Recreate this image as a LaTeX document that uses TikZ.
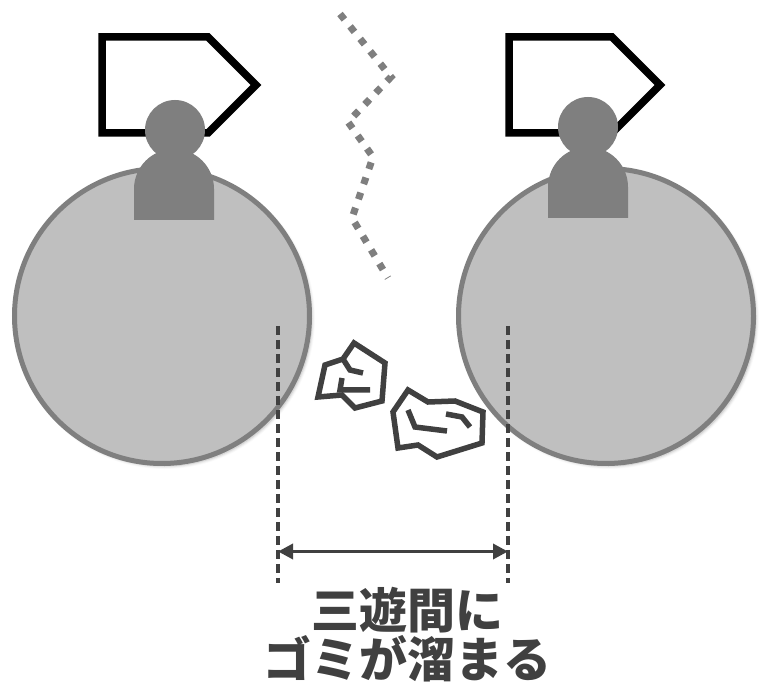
\documentclass[tikz,border=0pt]{standalone}
\usepackage{fontspec}
\newfontfamily\jpfont{Noto Sans CJK JP}
\usetikzlibrary{arrows.meta,shadows.blur}
\definecolor{discfill}{HTML}{BFBFBF}
\definecolor{discedge}{HTML}{7F7F7F}
\definecolor{ink}{HTML}{404040}

\begin{document}
\begin{tikzpicture}[x=1pt,y=-1pt,
  disc/.style={circle, draw=discedge, fill=discfill, line width=5pt,
    minimum size=295pt, inner sep=0pt,
    blur shadow={shadow xshift=2.5pt, shadow yshift=-2.5pt,
      shadow blur radius=3pt, shadow opacity=30}},
  player/.style={fill=discedge},
  flagbox/.style={draw=black, fill=white, line width=7.5pt, line join=miter},
  trail/.style={draw=discedge, line width=7pt, dash pattern=on 7pt off 9pt},
  debris/.style={draw=ink, fill=white, line width=5.5pt, line join=miter},
  crack/.style={draw=ink, line width=5.5pt, line join=miter},
  guide/.style={draw=ink, line width=3.5pt, dash pattern=on 9pt off 5pt},
  span/.style={draw=ink, line width=3.5pt,
    {Triangle[length=15pt,width=15pt]}-{Triangle[length=15pt,width=15pt]}},
  caption/.style={text=ink, font=\jpfont\bfseries\fontsize{48}{49}\selectfont,
    anchor=base, inner sep=0pt}]

\useasboundingbox (0,0) rectangle (761,684);

% flags behind the two players
\draw[flagbox] (102,37) -- (208,37) -- (256,85) -- (208,133) -- (102,133) -- cycle;
\draw[flagbox] (509,37) -- (612,37) -- (660,85) -- (612,133) -- (509,133) -- cycle;

% dotted boundary between the two zones
\draw[trail] (340,14) -- (391,77) -- (348,122) -- (373,157) -- (352,218) -- (388,278);

% the two fielding areas
\node[disc] (leftdisc) at (162,316) {};
\node[disc] (rightdisc) at (606,316) {};

% players: rounded body and head
\fill[player] (134,220) -- (134,189) arc[start angle=180, end angle=0, radius=40pt] -- (214,220) -- cycle;
\fill[player] (175,130) circle[radius=30pt];
\fill[player] (548,218) -- (548,187) arc[start angle=180, end angle=0, radius=40pt] -- (628,218) -- cycle;
\fill[player] (588,127) circle[radius=30pt];

% rubbish gathering in the gap
\draw[debris] (354,343) -- (385,363) -- (382,401) -- (355,408) -- (342,395)
  -- (318,397) -- (325,365) -- (343,359) -- cycle;
\draw[crack] (343,359) -- (350,370) -- (363,373);
\draw[crack] (342,378) -- (340,390) -- (370,390);

\draw[debris] (408,390) -- (428,402) -- (455,401) -- (483,412) -- (482,443)
  -- (437,457) -- (418,445) -- (398,448) -- (393,412) -- cycle;
\draw[crack] (408,410) -- (415,427) -- (447,431);
\draw[crack] (446,414) -- (462,417) -- (470,427);

% width of the gap
\coordinate (gltop) at (278,326);
\coordinate (glbot) at (278,583);
\coordinate (grtop) at (508,326);
\coordinate (grbot) at (508,583);
\coordinate (al) at (278,551.5);
\coordinate (ar) at (508,551.5);
\draw[guide] (gltop) -- (glbot);
\draw[guide] (grtop) -- (grbot);
\draw[span] (al) -- (ar);

% caption
\node[caption] (capone) at (407,628) {三遊間に};
\node[caption] (captwo) at (407,677) {ゴミが溜まる};
\end{tikzpicture}
\end{document}
